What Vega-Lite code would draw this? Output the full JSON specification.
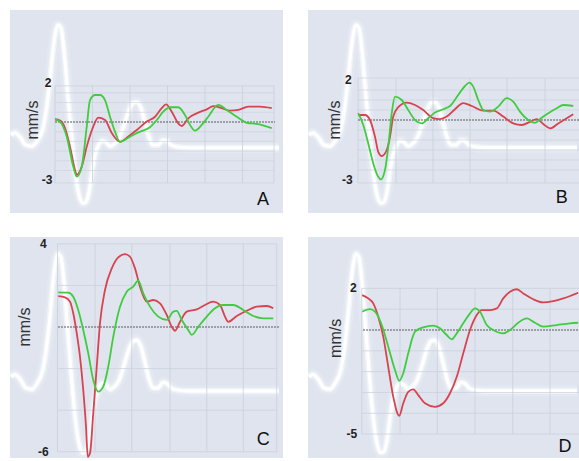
{
  "$schema": "https://vega.github.io/schema/vega-lite/v6.json",
  "background": "white",
  "padding": {"left": 10, "top": 10, "right": 0, "bottom": 0},
  "config": {"view": {"stroke": null, "fill": "#dfe4ee"}},
  "datasets": {
    "ecg": [
      {"t": -176, "a": 0.30}, {"t": -160, "a": 0.35}, {"t": -140, "a": 0.25}, {"t": -116, "a": 0.05}, {"t": -92, "a": 0.02}, {"t": -72, "a": 0.15}, {"t": -48, "a": 0.47}, {"t": -32, "a": 1.05}, {"t": -20, "a": 1.67}, {"t": -8, "a": 2.42}, {"t": 4, "a": 2.92}, {"t": 12, "a": 3.05}, {"t": 24, "a": 2.97}, {"t": 36, "a": 2.42}, {"t": 48, "a": 1.55}, {"t": 64, "a": 0.42}, {"t": 80, "a": -0.57}, {"t": 96, "a": -1.2}, {"t": 112, "a": -1.4}, {"t": 124, "a": -1.37}, {"t": 136, "a": -1.12}, {"t": 148, "a": -0.62}, {"t": 160, "a": -0.2}, {"t": 172, "a": 0.02}, {"t": 188, "a": 0.15}, {"t": 204, "a": 0.12}, {"t": 220, "a": 0.02}, {"t": 236, "a": 0.07}, {"t": 256, "a": 0.22}, {"t": 276, "a": 0.55}, {"t": 296, "a": 0.92}, {"t": 312, "a": 1.1}, {"t": 328, "a": 1.12}, {"t": 344, "a": 0.97}, {"t": 360, "a": 0.62}, {"t": 376, "a": 0.25}, {"t": 392, "a": 0.05}, {"t": 412, "a": 0.05}, {"t": 432, "a": 0.17}, {"t": 448, "a": 0.15}, {"t": 464, "a": 0.05}, {"t": 492, "a": 0}, {"t": 540, "a": -0.02}, {"t": 896, "a": -0.02}
    ],
    "lineA": [
      {"s": "red", "t": 0, "v": 0.14}, {"s": "red", "t": 20, "v": 0.07}, {"s": "red", "t": 40, "v": -0.31}, {"s": "red", "t": 60, "v": -1.27}, {"s": "red", "t": 80, "v": -2.47}, {"s": "red", "t": 87, "v": -2.73}, {"s": "red", "t": 107, "v": -2.30}, {"s": "red", "t": 127, "v": -1.27}, {"s": "red", "t": 153, "v": -0.24}, {"s": "red", "t": 173, "v": 0.22}, {"s": "red", "t": 200, "v": 0.10}, {"s": "red", "t": 227, "v": -0.57}, {"s": "red", "t": 260, "v": -1.02}, {"s": "red", "t": 292, "v": -0.76}, {"s": "red", "t": 327, "v": -0.41}, {"s": "red", "t": 367, "v": 0.02}, {"s": "red", "t": 400, "v": 0.27}, {"s": "red", "t": 427, "v": 0.71}, {"s": "red", "t": 444, "v": 0.91}, {"s": "red", "t": 467, "v": 0.53}, {"s": "red", "t": 493, "v": -0.07}, {"s": "red", "t": 507, "v": -0.21}, {"s": "red", "t": 533, "v": 0.19}, {"s": "red", "t": 573, "v": 0.48}, {"s": "red", "t": 607, "v": 0.65}, {"s": "red", "t": 633, "v": 0.82}, {"s": "red", "t": 667, "v": 0.71}, {"s": "red", "t": 700, "v": 0.58}, {"s": "red", "t": 733, "v": 0.62}, {"s": "red", "t": 773, "v": 0.79}, {"s": "red", "t": 820, "v": 0.79}, {"s": "red", "t": 867, "v": 0.71},
      {"s": "green", "t": 0, "v": 0.14}, {"s": "green", "t": 20, "v": 0.02}, {"s": "green", "t": 47, "v": -0.76}, {"s": "green", "t": 73, "v": -2.30}, {"s": "green", "t": 87, "v": -2.82}, {"s": "green", "t": 107, "v": -2.30}, {"s": "green", "t": 127, "v": -0.24}, {"s": "green", "t": 140, "v": 1.13}, {"s": "green", "t": 160, "v": 1.39}, {"s": "green", "t": 180, "v": 1.39}, {"s": "green", "t": 200, "v": 1.13}, {"s": "green", "t": 220, "v": 0.27}, {"s": "green", "t": 240, "v": -0.50}, {"s": "green", "t": 260, "v": -1.02}, {"s": "green", "t": 300, "v": -0.76}, {"s": "green", "t": 340, "v": -0.50}, {"s": "green", "t": 380, "v": -0.27}, {"s": "green", "t": 407, "v": 0.10}, {"s": "green", "t": 433, "v": 0.53}, {"s": "green", "t": 460, "v": 0.76}, {"s": "green", "t": 493, "v": 0.76}, {"s": "green", "t": 520, "v": 0.36}, {"s": "green", "t": 540, "v": -0.15}, {"s": "green", "t": 560, "v": -0.45}, {"s": "green", "t": 587, "v": -0.15}, {"s": "green", "t": 613, "v": 0.27}, {"s": "green", "t": 653, "v": 0.88}, {"s": "green", "t": 687, "v": 0.62}, {"s": "green", "t": 727, "v": 0.27}, {"s": "green", "t": 767, "v": -0.04}, {"s": "green", "t": 807, "v": -0.10}, {"s": "green", "t": 867, "v": -0.32}
    ],
    "lineB": [
      {"s": "red", "t": 21, "v": 0.25}, {"s": "red", "t": 48, "v": 0.25}, {"s": "red", "t": 68, "v": 0}, {"s": "red", "t": 88, "v": -0.84}, {"s": "red", "t": 101, "v": -1.59}, {"s": "red", "t": 115, "v": -1.80}, {"s": "red", "t": 135, "v": -1.50}, {"s": "red", "t": 148, "v": -0.84}, {"s": "red", "t": 161, "v": 0.17}, {"s": "red", "t": 181, "v": 0.64}, {"s": "red", "t": 215, "v": 0.87}, {"s": "red", "t": 248, "v": 0.75}, {"s": "red", "t": 281, "v": 0.50}, {"s": "red", "t": 321, "v": 0.09}, {"s": "red", "t": 348, "v": 0.04}, {"s": "red", "t": 375, "v": 0.17}, {"s": "red", "t": 408, "v": 0.54}, {"s": "red", "t": 441, "v": 0.84}, {"s": "red", "t": 475, "v": 0.70}, {"s": "red", "t": 521, "v": 0.47}, {"s": "red", "t": 561, "v": 0.47}, {"s": "red", "t": 601, "v": 0.17}, {"s": "red", "t": 641, "v": -0.17}, {"s": "red", "t": 675, "v": -0.25}, {"s": "red", "t": 708, "v": -0.09}, {"s": "red", "t": 735, "v": 0.04}, {"s": "red", "t": 761, "v": -0.20}, {"s": "red", "t": 788, "v": -0.42}, {"s": "red", "t": 821, "v": -0.17}, {"s": "red", "t": 855, "v": 0.09}, {"s": "red", "t": 881, "v": 0.29},
      {"s": "green", "t": 21, "v": 0.34}, {"s": "green", "t": 41, "v": -0.25}, {"s": "green", "t": 61, "v": -1.17}, {"s": "green", "t": 81, "v": -2.17}, {"s": "green", "t": 101, "v": -2.84}, {"s": "green", "t": 111, "v": -2.97}, {"s": "green", "t": 128, "v": -2.50}, {"s": "green", "t": 141, "v": -1.34}, {"s": "green", "t": 155, "v": 0.34}, {"s": "green", "t": 168, "v": 1.17}, {"s": "green", "t": 195, "v": 1.00}, {"s": "green", "t": 221, "v": 0.50}, {"s": "green", "t": 248, "v": 0}, {"s": "green", "t": 275, "v": -0.17}, {"s": "green", "t": 301, "v": 0.09}, {"s": "green", "t": 328, "v": 0.37}, {"s": "green", "t": 361, "v": 0.54}, {"s": "green", "t": 388, "v": 0.70}, {"s": "green", "t": 421, "v": 1.25}, {"s": "green", "t": 448, "v": 1.70}, {"s": "green", "t": 465, "v": 1.87}, {"s": "green", "t": 481, "v": 1.67}, {"s": "green", "t": 501, "v": 1.00}, {"s": "green", "t": 521, "v": 0.50}, {"s": "green", "t": 548, "v": 0.42}, {"s": "green", "t": 581, "v": 0.67}, {"s": "green", "t": 615, "v": 1.09}, {"s": "green", "t": 641, "v": 0.92}, {"s": "green", "t": 668, "v": 0.42}, {"s": "green", "t": 701, "v": 0}, {"s": "green", "t": 728, "v": -0.14}, {"s": "green", "t": 752, "v": 0.09}, {"s": "green", "t": 781, "v": 0.34}, {"s": "green", "t": 815, "v": 0.59}, {"s": "green", "t": 841, "v": 0.75}, {"s": "green", "t": 881, "v": 0.70}
    ],
    "lineC": [
      {"s": "red", "t": 13, "v": 1.49}, {"s": "red", "t": 40, "v": 1.43}, {"s": "red", "t": 60, "v": 1.22}, {"s": "red", "t": 73, "v": 0.66}, {"s": "red", "t": 87, "v": -0.30}, {"s": "red", "t": 100, "v": -1.43}, {"s": "red", "t": 113, "v": -3.03}, {"s": "red", "t": 124, "v": -4.79}, {"s": "red", "t": 131, "v": -6.24}, {"s": "red", "t": 140, "v": -6.07}, {"s": "red", "t": 153, "v": -4.15}, {"s": "red", "t": 167, "v": -1.91}, {"s": "red", "t": 180, "v": 0.18}, {"s": "red", "t": 200, "v": 1.78}, {"s": "red", "t": 227, "v": 2.82}, {"s": "red", "t": 253, "v": 3.35}, {"s": "red", "t": 280, "v": 3.51}, {"s": "red", "t": 300, "v": 3.38}, {"s": "red", "t": 320, "v": 2.82}, {"s": "red", "t": 340, "v": 1.94}, {"s": "red", "t": 367, "v": 1.22}, {"s": "red", "t": 393, "v": 1.30}, {"s": "red", "t": 420, "v": 1.14}, {"s": "red", "t": 447, "v": 0.58}, {"s": "red", "t": 467, "v": 0.01}, {"s": "red", "t": 480, "v": -0.18}, {"s": "red", "t": 500, "v": 0.25}, {"s": "red", "t": 527, "v": 0.74}, {"s": "red", "t": 567, "v": 0.85}, {"s": "red", "t": 600, "v": 1.06}, {"s": "red", "t": 633, "v": 1.22}, {"s": "red", "t": 660, "v": 1.06}, {"s": "red", "t": 680, "v": 0.50}, {"s": "red", "t": 693, "v": 0.25}, {"s": "red", "t": 727, "v": 0.53}, {"s": "red", "t": 767, "v": 0.78}, {"s": "red", "t": 807, "v": 0.98}, {"s": "red", "t": 847, "v": 1.01}, {"s": "red", "t": 873, "v": 0.90},
      {"s": "green", "t": 13, "v": 1.67}, {"s": "green", "t": 53, "v": 1.65}, {"s": "green", "t": 73, "v": 1.46}, {"s": "green", "t": 93, "v": 0.82}, {"s": "green", "t": 113, "v": -0.14}, {"s": "green", "t": 133, "v": -1.26}, {"s": "green", "t": 153, "v": -2.55}, {"s": "green", "t": 173, "v": -3.11}, {"s": "green", "t": 193, "v": -2.87}, {"s": "green", "t": 213, "v": -1.91}, {"s": "green", "t": 233, "v": -0.47}, {"s": "green", "t": 260, "v": 0.98}, {"s": "green", "t": 287, "v": 1.70}, {"s": "green", "t": 313, "v": 1.94}, {"s": "green", "t": 333, "v": 2.23}, {"s": "green", "t": 353, "v": 1.62}, {"s": "green", "t": 380, "v": 0.98}, {"s": "green", "t": 413, "v": 0.50}, {"s": "green", "t": 447, "v": 0.34}, {"s": "green", "t": 473, "v": 0.74}, {"s": "green", "t": 487, "v": 0.78}, {"s": "green", "t": 507, "v": 0.34}, {"s": "green", "t": 533, "v": -0.14}, {"s": "green", "t": 547, "v": -0.38}, {"s": "green", "t": 573, "v": 0.01}, {"s": "green", "t": 607, "v": 0.50}, {"s": "green", "t": 640, "v": 0.90}, {"s": "green", "t": 673, "v": 1.06}, {"s": "green", "t": 713, "v": 1.06}, {"s": "green", "t": 753, "v": 0.82}, {"s": "green", "t": 793, "v": 0.53}, {"s": "green", "t": 833, "v": 0.42}, {"s": "green", "t": 873, "v": 0.42}
    ],
    "lineD": [
      {"s": "red", "t": 37, "v": 1.68}, {"s": "red", "t": 61, "v": 1.52}, {"s": "red", "t": 81, "v": 1.28}, {"s": "red", "t": 101, "v": 0.64}, {"s": "red", "t": 121, "v": -0.32}, {"s": "red", "t": 141, "v": -1.77}, {"s": "red", "t": 161, "v": -3.21}, {"s": "red", "t": 185, "v": -4.12}, {"s": "red", "t": 201, "v": -3.52}, {"s": "red", "t": 221, "v": -2.97}, {"s": "red", "t": 241, "v": -2.85}, {"s": "red", "t": 261, "v": -3.13}, {"s": "red", "t": 288, "v": -3.52}, {"s": "red", "t": 328, "v": -3.69}, {"s": "red", "t": 361, "v": -3.52}, {"s": "red", "t": 388, "v": -3.04}, {"s": "red", "t": 415, "v": -2.25}, {"s": "red", "t": 441, "v": -1.12}, {"s": "red", "t": 468, "v": 0}, {"s": "red", "t": 495, "v": 0.72}, {"s": "red", "t": 515, "v": 0.96}, {"s": "red", "t": 548, "v": 0.96}, {"s": "red", "t": 575, "v": 1.04}, {"s": "red", "t": 601, "v": 1.52}, {"s": "red", "t": 628, "v": 1.84}, {"s": "red", "t": 655, "v": 1.96}, {"s": "red", "t": 681, "v": 1.76}, {"s": "red", "t": 721, "v": 1.48}, {"s": "red", "t": 761, "v": 1.33}, {"s": "red", "t": 801, "v": 1.39}, {"s": "red", "t": 841, "v": 1.52}, {"s": "red", "t": 901, "v": 1.79},
      {"s": "green", "t": 37, "v": 0.88}, {"s": "green", "t": 68, "v": 1.00}, {"s": "green", "t": 88, "v": 0.88}, {"s": "green", "t": 115, "v": 0.24}, {"s": "green", "t": 141, "v": -0.80}, {"s": "green", "t": 168, "v": -1.92}, {"s": "green", "t": 185, "v": -2.44}, {"s": "green", "t": 201, "v": -2.08}, {"s": "green", "t": 221, "v": -1.12}, {"s": "green", "t": 248, "v": -0.08}, {"s": "green", "t": 281, "v": 0.13}, {"s": "green", "t": 321, "v": 0.21}, {"s": "green", "t": 348, "v": 0.08}, {"s": "green", "t": 375, "v": -0.24}, {"s": "green", "t": 395, "v": -0.45}, {"s": "green", "t": 415, "v": -0.16}, {"s": "green", "t": 441, "v": 0.32}, {"s": "green", "t": 468, "v": 0.80}, {"s": "green", "t": 488, "v": 1.04}, {"s": "green", "t": 508, "v": 0.88}, {"s": "green", "t": 535, "v": 0.24}, {"s": "green", "t": 561, "v": 0}, {"s": "green", "t": 601, "v": -0.16}, {"s": "green", "t": 628, "v": 0}, {"s": "green", "t": 661, "v": 0.35}, {"s": "green", "t": 695, "v": 0.56}, {"s": "green", "t": 728, "v": 0.35}, {"s": "green", "t": 761, "v": 0.16}, {"s": "green", "t": 815, "v": 0.24}, {"s": "green", "t": 868, "v": 0.32}, {"s": "green", "t": 901, "v": 0.35}
    ],
    "gvA": [{"t": 0}, {"t": 150}, {"t": 300}, {"t": 450}, {"t": 600}, {"t": 750}, {"t": 876}],
    "gvB": [{"t": 20}, {"t": 172}, {"t": 320}, {"t": 468}, {"t": 616}, {"t": 768}],
    "gvC": [{"t": 10}, {"t": 160}, {"t": 307}, {"t": 460}, {"t": 607}, {"t": 753}, {"t": 887}],
    "gvD": [{"t": 35}, {"t": 188}, {"t": 337}, {"t": 488}, {"t": 639}, {"t": 788}],
    "ghA": [{"v": 1.86}, {"v": 1.5}, {"v": 1}, {"v": 0.5}, {"v": -0.5}, {"v": -1}, {"v": -1.5}, {"v": -2}, {"v": -2.5}, {"v": -3.14}],
    "ghB": [{"v": 2.1}, {"v": 1.5}, {"v": 1}, {"v": 0.5}, {"v": -0.5}, {"v": -1}, {"v": -1.5}, {"v": -2}, {"v": -2.5}, {"v": -3.15}],
    "ghC": [{"v": 4}, {"v": 2}, {"v": -2}, {"v": -4}, {"v": -6}],
    "ghD": [{"v": 2}, {"v": 1}, {"v": -1}, {"v": -2}, {"v": -3}, {"v": -4}, {"v": -5}],
    "textA": [{"label": "2", "role": "tick", "t": -28, "v": 2}, {"label": "-3", "role": "tick", "t": -32, "v": -3}, {"label": "mm/s", "role": "unit", "t": -88, "v": 0.1}, {"label": "A", "role": "panel", "t": 832, "v": -4.02}],
    "textB": [{"label": "2", "role": "tick", "t": -19, "v": 2}, {"label": "-3", "role": "tick", "t": -23, "v": -3}, {"label": "mm/s", "role": "unit", "t": -72, "v": 0}, {"label": "B", "role": "panel", "t": 835, "v": -3.92}],
    "textC": [{"label": "4", "role": "tick", "t": -47, "v": 4}, {"label": "-6", "role": "tick", "t": -47, "v": -6}, {"label": "mm/s", "role": "unit", "t": -120, "v": 0}, {"label": "C", "role": "panel", "t": 833, "v": -5.43}],
    "textD": [{"label": "2", "role": "tick", "t": 1, "v": 2}, {"label": "-5", "role": "tick", "t": -5, "v": -5}, {"label": "mm/s", "role": "unit", "t": -70, "v": -0.4}, {"label": "D", "role": "panel", "t": 848, "v": -5.61}]
  },
  "vconcat": [
    {
      "hconcat": [
        {
          "width": 273, "height": 203,
          "resolve": {"scale": {"y": "independent"}},
          "layer": [
            {
              "data": {"name": "ecg"},
              "encoding": {
                "x": {"field": "t", "type": "quantitative", "scale": {"domain": [-180, 912], "nice": false, "zero": false}, "axis": null},
                "y": {"field": "a", "type": "quantitative", "scale": {"domain": [-1.65, 3.425], "nice": false, "zero": false}, "axis": null}
              },
              "layer": [
                {"mark": {"type": "line", "interpolate": "monotone", "color": "white", "strokeWidth": 11, "opacity": 0.18, "clip": true}},
                {"mark": {"type": "line", "interpolate": "monotone", "color": "white", "strokeWidth": 6, "opacity": 0.45, "clip": true}},
                {"mark": {"type": "line", "interpolate": "monotone", "color": "white", "strokeWidth": 3, "opacity": 1, "clip": true}}
              ]
            },
            {
              "layer": [
                {"data": {"name": "gvA"}, "mark": {"type": "rule", "color": "#c9cfdb", "strokeWidth": 0.8},
                 "encoding": {"x": {"field": "t", "type": "quantitative", "scale": {"domain": [-180, 912], "nice": false, "zero": false}, "axis": null},
                              "y": {"datum": 1.86, "type": "quantitative", "scale": {"domain": [-4.69, 5.77], "nice": false, "zero": false}, "axis": null},
                              "y2": {"datum": -3.14}}},
                {"data": {"name": "ghA"}, "mark": {"type": "rule", "color": "#ccd2dd", "strokeWidth": 0.7},
                 "encoding": {"y": {"field": "v", "type": "quantitative", "scale": {"domain": [-4.69, 5.77], "nice": false, "zero": false}, "axis": null},
                              "x": {"datum": 0, "type": "quantitative", "scale": {"domain": [-180, 912], "nice": false, "zero": false}, "axis": null},
                              "x2": {"datum": 876}}},
                {"data": {"values": [{"v": 0}]}, "mark": {"type": "rule", "color": "#5a5a5a", "strokeWidth": 1.2, "strokeDash": [2, 1]},
                 "encoding": {"y": {"field": "v", "type": "quantitative", "scale": {"domain": [-4.69, 5.77], "nice": false, "zero": false}, "axis": null},
                              "x": {"datum": 0, "type": "quantitative", "scale": {"domain": [-180, 912], "nice": false, "zero": false}, "axis": null},
                              "x2": {"datum": 880}}},
                {"data": {"name": "lineA"}, "mark": {"type": "line", "interpolate": "monotone", "strokeWidth": 1.8, "clip": true},
                 "encoding": {"x": {"field": "t", "type": "quantitative", "scale": {"domain": [-180, 912], "nice": false, "zero": false}, "axis": null},
                              "y": {"field": "v", "type": "quantitative", "scale": {"domain": [-4.69, 5.77], "nice": false, "zero": false}, "axis": null},
                              "color": {"field": "s", "type": "nominal", "scale": {"domain": ["red", "green"], "range": ["#d7434f", "#3fcc3f"]}, "legend": null}}},
                {"data": {"name": "textA"}, "transform": [{"filter": "datum.role === 'tick'"}],
                 "mark": {"type": "text", "font": "Liberation Sans", "fontSize": 12, "fontWeight": "bold", "color": "#222222", "align": "center", "baseline": "middle"},
                 "encoding": {"x": {"field": "t", "type": "quantitative", "scale": {"domain": [-180, 912], "nice": false, "zero": false}, "axis": null},
                              "y": {"field": "v", "type": "quantitative", "scale": {"domain": [-4.69, 5.77], "nice": false, "zero": false}, "axis": null},
                              "text": {"field": "label"}}},
                {"data": {"name": "textA"}, "transform": [{"filter": "datum.role === 'unit'"}],
                 "mark": {"type": "text", "font": "Liberation Sans", "fontSize": 16, "color": "#333333", "align": "center", "baseline": "middle", "angle": 270},
                 "encoding": {"x": {"field": "t", "type": "quantitative", "scale": {"domain": [-180, 912], "nice": false, "zero": false}, "axis": null},
                              "y": {"field": "v", "type": "quantitative", "scale": {"domain": [-4.69, 5.77], "nice": false, "zero": false}, "axis": null},
                              "text": {"field": "label"}}},
                {"data": {"name": "textA"}, "transform": [{"filter": "datum.role === 'panel'"}],
                 "mark": {"type": "text", "font": "Liberation Sans", "fontSize": 18, "color": "#111111", "align": "center", "baseline": "middle"},
                 "encoding": {"x": {"field": "t", "type": "quantitative", "scale": {"domain": [-180, 912], "nice": false, "zero": false}, "axis": null},
                              "y": {"field": "v", "type": "quantitative", "scale": {"domain": [-4.69, 5.77], "nice": false, "zero": false}, "axis": null},
                              "text": {"field": "label"}}}
              ]
            }
          ]
        },
        {
          "width": 271, "height": 203,
          "resolve": {"scale": {"y": "independent"}},
          "layer": [
            {
              "data": {"name": "ecg"},
              "encoding": {
                "x": {"field": "t", "type": "quantitative", "scale": {"domain": [-180, 904], "nice": false, "zero": false}, "axis": null},
                "y": {"field": "a", "type": "quantitative", "scale": {"domain": [-1.65, 3.425], "nice": false, "zero": false}, "axis": null}
              },
              "layer": [
                {"mark": {"type": "line", "interpolate": "monotone", "color": "white", "strokeWidth": 11, "opacity": 0.18, "clip": true}},
                {"mark": {"type": "line", "interpolate": "monotone", "color": "white", "strokeWidth": 6, "opacity": 0.45, "clip": true}},
                {"mark": {"type": "line", "interpolate": "monotone", "color": "white", "strokeWidth": 3, "opacity": 1, "clip": true}}
              ]
            },
            {
              "layer": [
                {"data": {"name": "gvB"}, "mark": {"type": "rule", "color": "#c9cfdb", "strokeWidth": 0.8},
                 "encoding": {"x": {"field": "t", "type": "quantitative", "scale": {"domain": [-180, 904], "nice": false, "zero": false}, "axis": null},
                              "y": {"datum": 2.1, "type": "quantitative", "scale": {"domain": [-4.65, 5.5], "nice": false, "zero": false}, "axis": null},
                              "y2": {"datum": -3.15}}},
                {"data": {"name": "ghB"}, "mark": {"type": "rule", "color": "#ccd2dd", "strokeWidth": 0.7},
                 "encoding": {"y": {"field": "v", "type": "quantitative", "scale": {"domain": [-4.65, 5.5], "nice": false, "zero": false}, "axis": null},
                              "x": {"datum": 20, "type": "quantitative", "scale": {"domain": [-180, 904], "nice": false, "zero": false}, "axis": null},
                              "x2": {"datum": 904}}},
                {"data": {"values": [{"v": 0}]}, "mark": {"type": "rule", "color": "#5a5a5a", "strokeWidth": 1.2, "strokeDash": [2, 1]},
                 "encoding": {"y": {"field": "v", "type": "quantitative", "scale": {"domain": [-4.65, 5.5], "nice": false, "zero": false}, "axis": null},
                              "x": {"datum": 20, "type": "quantitative", "scale": {"domain": [-180, 904], "nice": false, "zero": false}, "axis": null},
                              "x2": {"datum": 904}}},
                {"data": {"name": "lineB"}, "mark": {"type": "line", "interpolate": "monotone", "strokeWidth": 1.8, "clip": true},
                 "encoding": {"x": {"field": "t", "type": "quantitative", "scale": {"domain": [-180, 904], "nice": false, "zero": false}, "axis": null},
                              "y": {"field": "v", "type": "quantitative", "scale": {"domain": [-4.65, 5.5], "nice": false, "zero": false}, "axis": null},
                              "color": {"field": "s", "type": "nominal", "scale": {"domain": ["red", "green"], "range": ["#d7434f", "#3fcc3f"]}, "legend": null}}},
                {"data": {"name": "textB"}, "transform": [{"filter": "datum.role === 'tick'"}],
                 "mark": {"type": "text", "font": "Liberation Sans", "fontSize": 12, "fontWeight": "bold", "color": "#222222", "align": "center", "baseline": "middle"},
                 "encoding": {"x": {"field": "t", "type": "quantitative", "scale": {"domain": [-180, 904], "nice": false, "zero": false}, "axis": null},
                              "y": {"field": "v", "type": "quantitative", "scale": {"domain": [-4.65, 5.5], "nice": false, "zero": false}, "axis": null},
                              "text": {"field": "label"}}},
                {"data": {"name": "textB"}, "transform": [{"filter": "datum.role === 'unit'"}],
                 "mark": {"type": "text", "font": "Liberation Sans", "fontSize": 16, "color": "#333333", "align": "center", "baseline": "middle", "angle": 270},
                 "encoding": {"x": {"field": "t", "type": "quantitative", "scale": {"domain": [-180, 904], "nice": false, "zero": false}, "axis": null},
                              "y": {"field": "v", "type": "quantitative", "scale": {"domain": [-4.65, 5.5], "nice": false, "zero": false}, "axis": null},
                              "text": {"field": "label"}}},
                {"data": {"name": "textB"}, "transform": [{"filter": "datum.role === 'panel'"}],
                 "mark": {"type": "text", "font": "Liberation Sans", "fontSize": 18, "color": "#111111", "align": "center", "baseline": "middle"},
                 "encoding": {"x": {"field": "t", "type": "quantitative", "scale": {"domain": [-180, 904], "nice": false, "zero": false}, "axis": null},
                              "y": {"field": "v", "type": "quantitative", "scale": {"domain": [-4.65, 5.5], "nice": false, "zero": false}, "axis": null},
                              "text": {"field": "label"}}}
              ]
            }
          ]
        }
      ],
      "spacing": 25,
      "bounds": "flush"
    },
    {
      "hconcat": [
        {
          "width": 273, "height": 221,
          "resolve": {"scale": {"y": "independent"}},
          "layer": [
            {
              "data": {"name": "ecg"},
              "encoding": {
                "x": {"field": "t", "type": "quantitative", "scale": {"domain": [-180, 912], "nice": false, "zero": false}, "axis": null},
                "y": {"field": "a", "type": "quantitative", "scale": {"domain": [-1.52, 3.43], "nice": false, "zero": false}, "axis": null}
              },
              "layer": [
                {"mark": {"type": "line", "interpolate": "monotone", "color": "white", "strokeWidth": 11, "opacity": 0.18, "clip": true}},
                {"mark": {"type": "line", "interpolate": "monotone", "color": "white", "strokeWidth": 6, "opacity": 0.45, "clip": true}},
                {"mark": {"type": "line", "interpolate": "monotone", "color": "white", "strokeWidth": 3, "opacity": 1, "clip": true}}
              ]
            },
            {
              "layer": [
                {"data": {"name": "gvC"}, "mark": {"type": "rule", "color": "#c9cfdb", "strokeWidth": 0.8},
                 "encoding": {"x": {"field": "t", "type": "quantitative", "scale": {"domain": [-180, 912], "nice": false, "zero": false}, "axis": null},
                              "y": {"datum": 4, "type": "quantitative", "scale": {"domain": [-6.3, 4.33], "nice": false, "zero": false}, "axis": null},
                              "y2": {"datum": -6}}},
                {"data": {"name": "ghC"}, "mark": {"type": "rule", "color": "#ccd2dd", "strokeWidth": 0.8},
                 "encoding": {"y": {"field": "v", "type": "quantitative", "scale": {"domain": [-6.3, 4.33], "nice": false, "zero": false}, "axis": null},
                              "x": {"datum": 10, "type": "quantitative", "scale": {"domain": [-180, 912], "nice": false, "zero": false}, "axis": null},
                              "x2": {"datum": 887}}},
                {"data": {"values": [{"v": 0}]}, "mark": {"type": "rule", "color": "#5a5a5a", "strokeWidth": 1.2, "strokeDash": [2, 1]},
                 "encoding": {"y": {"field": "v", "type": "quantitative", "scale": {"domain": [-6.3, 4.33], "nice": false, "zero": false}, "axis": null},
                              "x": {"datum": 12, "type": "quantitative", "scale": {"domain": [-180, 912], "nice": false, "zero": false}, "axis": null},
                              "x2": {"datum": 896}}},
                {"data": {"name": "lineC"}, "mark": {"type": "line", "interpolate": "monotone", "strokeWidth": 1.8, "clip": true},
                 "encoding": {"x": {"field": "t", "type": "quantitative", "scale": {"domain": [-180, 912], "nice": false, "zero": false}, "axis": null},
                              "y": {"field": "v", "type": "quantitative", "scale": {"domain": [-6.3, 4.33], "nice": false, "zero": false}, "axis": null},
                              "color": {"field": "s", "type": "nominal", "scale": {"domain": ["red", "green"], "range": ["#d7434f", "#3fcc3f"]}, "legend": null}}},
                {"data": {"name": "textC"}, "transform": [{"filter": "datum.role === 'tick'"}],
                 "mark": {"type": "text", "font": "Liberation Sans", "fontSize": 12, "fontWeight": "bold", "color": "#222222", "align": "center", "baseline": "middle"},
                 "encoding": {"x": {"field": "t", "type": "quantitative", "scale": {"domain": [-180, 912], "nice": false, "zero": false}, "axis": null},
                              "y": {"field": "v", "type": "quantitative", "scale": {"domain": [-6.3, 4.33], "nice": false, "zero": false}, "axis": null},
                              "text": {"field": "label"}}},
                {"data": {"name": "textC"}, "transform": [{"filter": "datum.role === 'unit'"}],
                 "mark": {"type": "text", "font": "Liberation Sans", "fontSize": 16, "color": "#333333", "align": "center", "baseline": "middle", "angle": 270},
                 "encoding": {"x": {"field": "t", "type": "quantitative", "scale": {"domain": [-180, 912], "nice": false, "zero": false}, "axis": null},
                              "y": {"field": "v", "type": "quantitative", "scale": {"domain": [-6.3, 4.33], "nice": false, "zero": false}, "axis": null},
                              "text": {"field": "label"}}},
                {"data": {"name": "textC"}, "transform": [{"filter": "datum.role === 'panel'"}],
                 "mark": {"type": "text", "font": "Liberation Sans", "fontSize": 18, "color": "#111111", "align": "center", "baseline": "middle"},
                 "encoding": {"x": {"field": "t", "type": "quantitative", "scale": {"domain": [-180, 912], "nice": false, "zero": false}, "axis": null},
                              "y": {"field": "v", "type": "quantitative", "scale": {"domain": [-6.3, 4.33], "nice": false, "zero": false}, "axis": null},
                              "text": {"field": "label"}}}
              ]
            }
          ]
        },
        {
          "width": 271, "height": 221,
          "resolve": {"scale": {"y": "independent"}},
          "layer": [
            {
              "data": {"name": "ecg"},
              "encoding": {
                "x": {"field": "t", "type": "quantitative", "scale": {"domain": [-180, 904], "nice": false, "zero": false}, "axis": null},
                "y": {"field": "a", "type": "quantitative", "scale": {"domain": [-1.52, 3.43], "nice": false, "zero": false}, "axis": null}
              },
              "layer": [
                {"mark": {"type": "line", "interpolate": "monotone", "color": "white", "strokeWidth": 11, "opacity": 0.18, "clip": true}},
                {"mark": {"type": "line", "interpolate": "monotone", "color": "white", "strokeWidth": 6, "opacity": 0.45, "clip": true}},
                {"mark": {"type": "line", "interpolate": "monotone", "color": "white", "strokeWidth": 3, "opacity": 1, "clip": true}}
              ]
            },
            {
              "layer": [
                {"data": {"name": "gvD"}, "mark": {"type": "rule", "color": "#c9cfdb", "strokeWidth": 0.8},
                 "encoding": {"x": {"field": "t", "type": "quantitative", "scale": {"domain": [-180, 904], "nice": false, "zero": false}, "axis": null},
                              "y": {"datum": 2, "type": "quantitative", "scale": {"domain": [-6.15, 4.47], "nice": false, "zero": false}, "axis": null},
                              "y2": {"datum": -5}}},
                {"data": {"name": "ghD"}, "mark": {"type": "rule", "color": "#ccd2dd", "strokeWidth": 0.8},
                 "encoding": {"y": {"field": "v", "type": "quantitative", "scale": {"domain": [-6.15, 4.47], "nice": false, "zero": false}, "axis": null},
                              "x": {"datum": 35, "type": "quantitative", "scale": {"domain": [-180, 904], "nice": false, "zero": false}, "axis": null},
                              "x2": {"datum": 904}}},
                {"data": {"values": [{"v": 0}]}, "mark": {"type": "rule", "color": "#5a5a5a", "strokeWidth": 1.2, "strokeDash": [2, 1]},
                 "encoding": {"y": {"field": "v", "type": "quantitative", "scale": {"domain": [-6.15, 4.47], "nice": false, "zero": false}, "axis": null},
                              "x": {"datum": 40, "type": "quantitative", "scale": {"domain": [-180, 904], "nice": false, "zero": false}, "axis": null},
                              "x2": {"datum": 904}}},
                {"data": {"name": "lineD"}, "mark": {"type": "line", "interpolate": "monotone", "strokeWidth": 1.8, "clip": true},
                 "encoding": {"x": {"field": "t", "type": "quantitative", "scale": {"domain": [-180, 904], "nice": false, "zero": false}, "axis": null},
                              "y": {"field": "v", "type": "quantitative", "scale": {"domain": [-6.15, 4.47], "nice": false, "zero": false}, "axis": null},
                              "color": {"field": "s", "type": "nominal", "scale": {"domain": ["red", "green"], "range": ["#d7434f", "#3fcc3f"]}, "legend": null}}},
                {"data": {"name": "textD"}, "transform": [{"filter": "datum.role === 'tick'"}],
                 "mark": {"type": "text", "font": "Liberation Sans", "fontSize": 12, "fontWeight": "bold", "color": "#222222", "align": "center", "baseline": "middle"},
                 "encoding": {"x": {"field": "t", "type": "quantitative", "scale": {"domain": [-180, 904], "nice": false, "zero": false}, "axis": null},
                              "y": {"field": "v", "type": "quantitative", "scale": {"domain": [-6.15, 4.47], "nice": false, "zero": false}, "axis": null},
                              "text": {"field": "label"}}},
                {"data": {"name": "textD"}, "transform": [{"filter": "datum.role === 'unit'"}],
                 "mark": {"type": "text", "font": "Liberation Sans", "fontSize": 16, "color": "#333333", "align": "center", "baseline": "middle", "angle": 270},
                 "encoding": {"x": {"field": "t", "type": "quantitative", "scale": {"domain": [-180, 904], "nice": false, "zero": false}, "axis": null},
                              "y": {"field": "v", "type": "quantitative", "scale": {"domain": [-6.15, 4.47], "nice": false, "zero": false}, "axis": null},
                              "text": {"field": "label"}}},
                {"data": {"name": "textD"}, "transform": [{"filter": "datum.role === 'panel'"}],
                 "mark": {"type": "text", "font": "Liberation Sans", "fontSize": 18, "color": "#111111", "align": "center", "baseline": "middle"},
                 "encoding": {"x": {"field": "t", "type": "quantitative", "scale": {"domain": [-180, 904], "nice": false, "zero": false}, "axis": null},
                              "y": {"field": "v", "type": "quantitative", "scale": {"domain": [-6.15, 4.47], "nice": false, "zero": false}, "axis": null},
                              "text": {"field": "label"}}}
              ]
            }
          ]
        }
      ],
      "spacing": 25,
      "bounds": "flush"
    }
  ],
  "spacing": 24
}
